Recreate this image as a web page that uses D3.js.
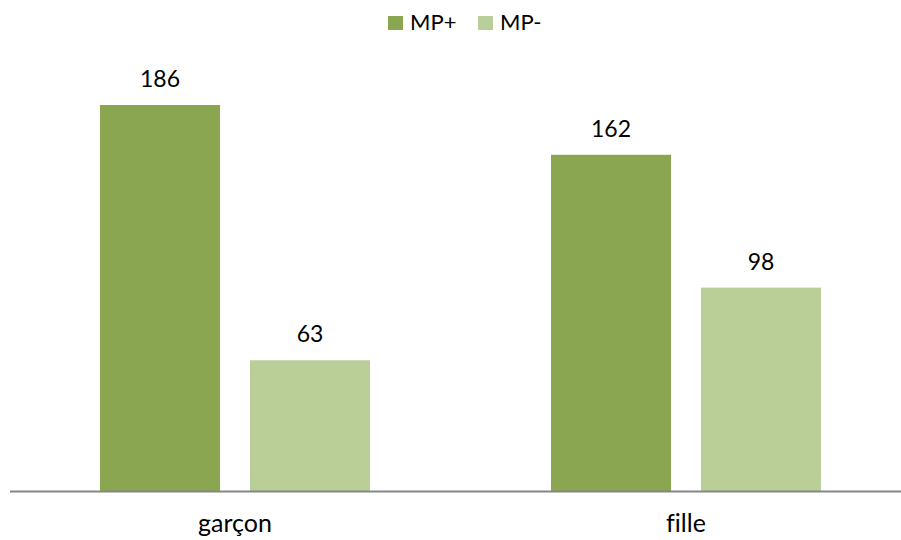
<!DOCTYPE html>
<html>
<head>
<meta charset="utf-8">
<script src="https://cdn.jsdelivr.net/npm/d3@7"></script>
<style>
  body { margin: 0; background: #fff; }
  text { font-family: Lato, "Open Sans", sans-serif; fill: #000; font-variant-ligatures: none; }
</style>
</head>
<body>
<svg width="901" height="540"></svg>
<script>
"use strict";

const categories = ['garçon', 'fille'];
const seriesNames = ['MP+', 'MP-'];
const mpPlus = [186, 162];
const mpMinus = [63, 98];

const colorMapping = {
    'MP+': '#8aa650',
    'MP-': '#bacf97'
};

const data = categories.map((c, i) => ({
    category: c,
    'MP+': mpPlus[i],
    'MP-': mpMinus[i]
}));

const svg = d3.select('svg');
const baseY = 491;

// band width 451; the plot runs a little past the right edge
const x0 = d3.scaleBand()
    .domain(categories)
    .range([9.5, 911.5]);

const x1 = d3.scaleBand()
    .domain(seriesNames)
    .range([90.5, 360.5])
    .paddingInner(0.2);

const y = d3.scaleLinear()
    .domain([0, 186])
    .range([baseY, 105]);

const groups = svg.selectAll('.group')
    .data(data)
    .enter().append('g')
    .attr('class', 'group')
    .attr('transform', d => `translate(${x0(d.category)},0)`);

groups.selectAll('rect')
    .data(d => seriesNames.map(s => ({key: s, value: d[s]})))
    .enter().append('rect')
    .attr('x', d => x1(d.key))
    .attr('y', d => y(d.value))
    .attr('width', x1.bandwidth())
    .attr('height', d => baseY - y(d.value))
    .attr('fill', d => colorMapping[d.key]);

groups.selectAll('.value')
    .data(d => seriesNames.map(s => ({key: s, value: d[s]})))
    .enter().append('text')
    .attr('class', 'value')
    .attr('x', d => x1(d.key) + x1.bandwidth() / 2)
    .attr('y', d => y(d.value) - 18)
    .attr('text-anchor', 'middle')
    .attr('font-size', '23px')
    .text(d => d.value);

// axis line
svg.append('line')
    .attr('x1', 10)
    .attr('x2', 901)
    .attr('y1', baseY + 0.5)
    .attr('y2', baseY + 0.5)
    .attr('stroke', '#868686')
    .attr('stroke-width', 2);

groups.append('text')
    .attr('x', x0.bandwidth() / 2)
    .attr('y', 532)
    .attr('text-anchor', 'middle')
    .attr('font-size', '25px')
    .text(d => d.category);

// legend
const legend = svg.append('g');
const legendX = [388, 478];
seriesNames.forEach((s, i) => {
    legend.append('rect')
        .attr('x', legendX[i])
        .attr('y', 16)
        .attr('width', 15)
        .attr('height', 14)
        .attr('fill', colorMapping[s]);
    legend.append('text')
        .attr('x', legendX[i] + 22)
        .attr('y', 30)
        .attr('font-size', '22px')
        .text(s);
});
</script>
</body>
</html>
